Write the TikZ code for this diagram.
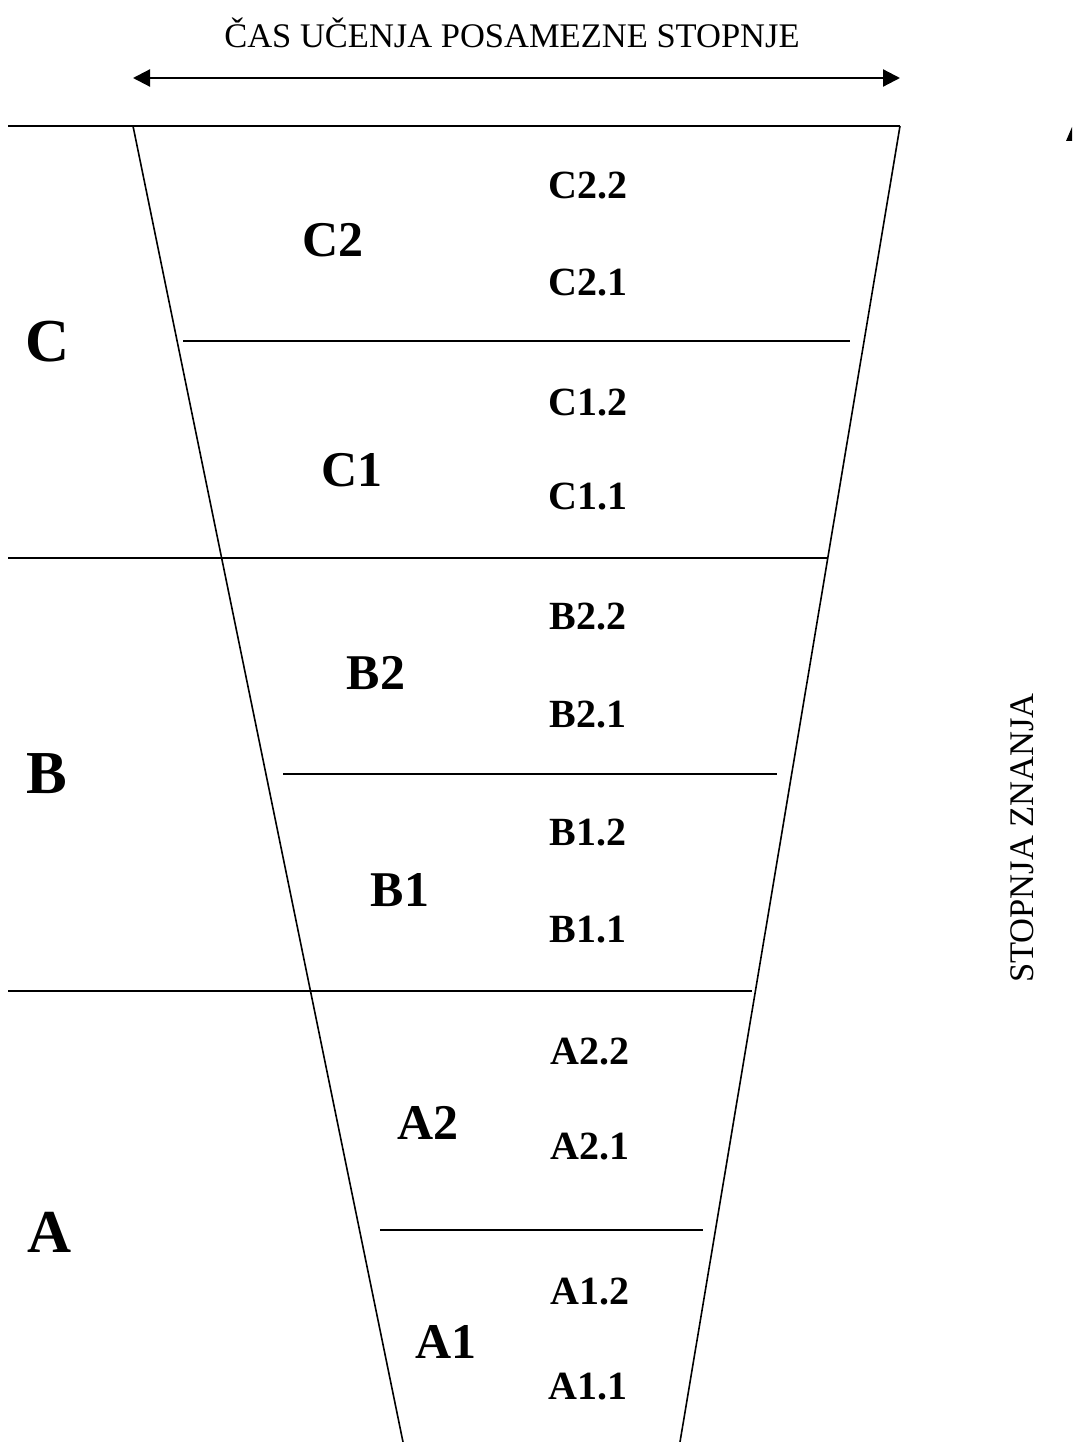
\documentclass[tikz,border=0pt]{standalone}
\usepackage{fontspec}
\setmainfont{Liberation Serif}
\usetikzlibrary{arrows.meta}
\begin{document}
\begin{tikzpicture}[x=1pt,y=-1pt,
  ln/.style={line width=2.2pt},
  funnel/.style={line width=1.6pt},
  bigtxt/.style={inner sep=0pt,font=\fontsize{61}{61}\selectfont\bfseries},
  midtxt/.style={inner sep=0pt,font=\fontsize{50}{50}\selectfont\bfseries},
  smltxt/.style={inner sep=0pt,font=\fontsize{40}{40}\selectfont\bfseries},
  captxt/.style={inner sep=0pt,font=\fontsize{34.5}{34.5}\selectfont},
  tip/.tip={Triangle[length=17pt,width=17pt]}]
\useasboundingbox (0,0) rectangle (1072,1442);
% coordinates
\coordinate (al) at (133,78);
\coordinate (ar) at (900,78);
\coordinate (h1l) at (8,126);  \coordinate (h1r) at (900,126);
\coordinate (h2l) at (8,558);  \coordinate (h2r) at (828,558);
\coordinate (h3l) at (8,991);  \coordinate (h3r) at (752,991);
\coordinate (i1l) at (183,341); \coordinate (i1r) at (850,341);
\coordinate (i2l) at (283,774); \coordinate (i2r) at (777,774);
\coordinate (i3l) at (380,1230); \coordinate (i3r) at (703,1230);
\coordinate (fl) at (403,1442);
\coordinate (fr) at (680,1442);
\coordinate (tl) at (133,126);
% title and arrow
\node[captxt] (title) at (512,33) {ČAS UČENJA POSAMEZNE STOPNJE};
\draw[ln,tip-tip] (al) -- (ar);
% lines
\draw[ln] (h1l) -- (h1r);
\draw[ln] (h2l) -- (h2r);
\draw[ln] (h3l) -- (h3r);
\draw[ln] (i1l) -- (i1r);
\draw[ln] (i2l) -- (i2r);
\draw[ln] (i3l) -- (i3r);
\draw[funnel] (tl) -- (fl);
\draw[funnel] (h1r) -- (fr);
% partial arrow at right edge
\begin{scope}
\clip (0,0) rectangle (1072,1442);
\fill (1066,141) -- (1072,127) -- (1078,141) -- cycle;
\end{scope}
% vertical caption
\node[captxt,rotate=90] (vert) at (1022,838) {STOPNJA ZNANJA};
% level letters
\node[bigtxt] (C) at (48,342) {C};
\node[bigtxt] (B) at (47,774) {B};
\node[bigtxt] (A) at (50,1232) {A};
% sublevels
\node[midtxt] (C2) at (333,240) {C2};
\node[midtxt] (C1) at (352,470) {C1};
\node[midtxt] (B2) at (376,673) {B2};
\node[midtxt] (B1) at (400,890) {B1};
\node[midtxt] (A2) at (428,1123) {A2};
\node[midtxt] (A1) at (446,1342) {A1};
% subsublevels
\node[smltxt] (C22) at (588,186) {C2.2};
\node[smltxt] (C21) at (588,283) {C2.1};
\node[smltxt] (C12) at (588,403) {C1.2};
\node[smltxt] (C11) at (588,497) {C1.1};
\node[smltxt] (B22) at (588,617) {B2.2};
\node[smltxt] (B21) at (588,715) {B2.1};
\node[smltxt] (B12) at (588,833) {B1.2};
\node[smltxt] (B11) at (588,930) {B1.1};
\node[smltxt] (A22) at (590,1052) {A2.2};
\node[smltxt] (A21) at (590,1147) {A2.1};
\node[smltxt] (A12) at (590,1292) {A1.2};
\node[smltxt] (A11) at (588,1387) {A1.1};
\end{tikzpicture}
\end{document}
